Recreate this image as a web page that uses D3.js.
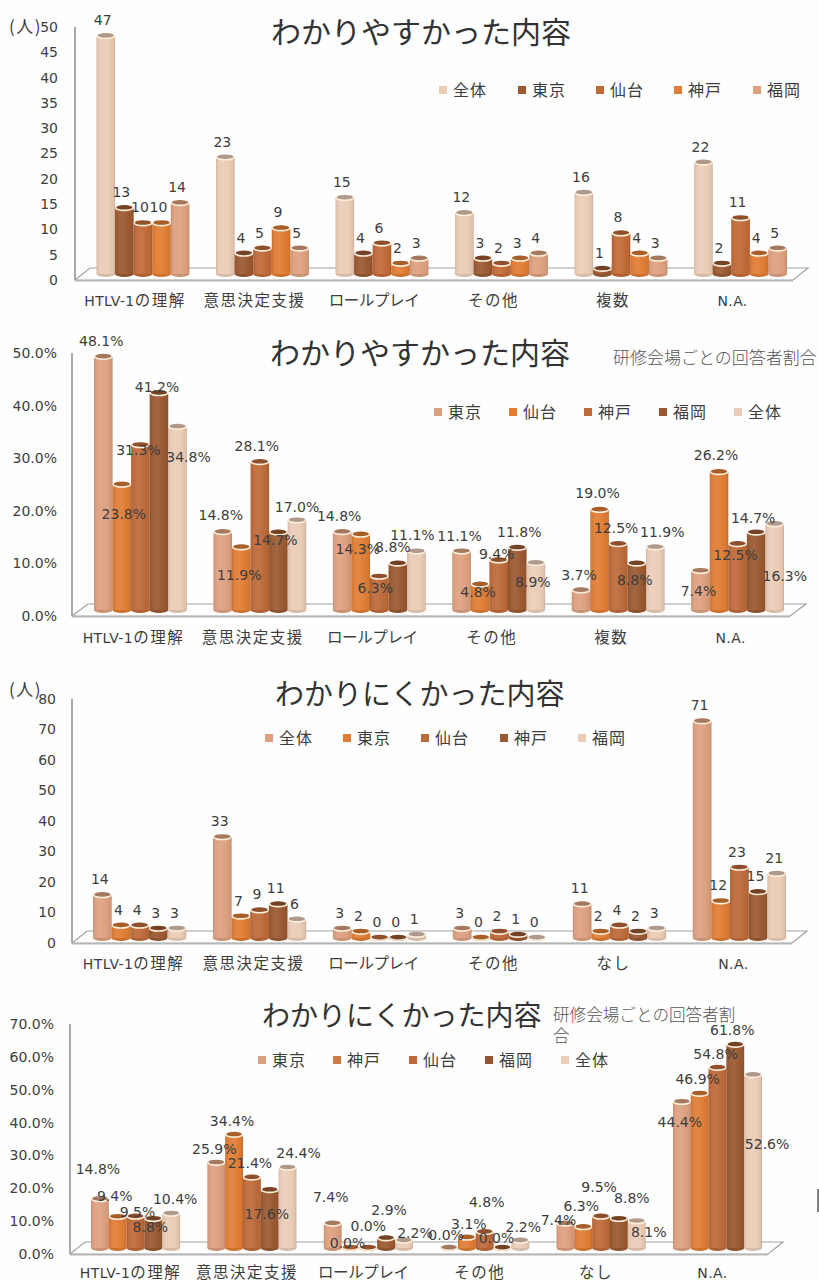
<!DOCTYPE html>
<html lang="ja">
<head>
<meta charset="utf-8">
<title>わかりやすかった内容・わかりにくかった内容</title>
<script src="https://cdn.jsdelivr.net/npm/d3@7"></script>
<style>
  html, body { margin: 0; padding: 0; background: #fff; }
  svg { display: block; }
  text { font-family: "DejaVu Sans", "Noto Sans CJK JP", sans-serif; fill: #3d3d3d; }
  .jp { font-family: "Noto Sans CJK JP", sans-serif; }
</style>
</head>
<body>
<svg id="chart" width="819" height="1281"></svg>
<script>
// Survey categories
const easyCategories = ["HTLV-1の理解", "意思決定支援", "ロールプレイ", "その他", "複数", "N.A."];
const hardCategories = ["HTLV-1の理解", "意思決定支援", "ロールプレイ", "その他", "なし", "N.A."];

// 1: easy to understand, head counts
const easyCountSeries = ["全体", "東京", "仙台", "神戸", "福岡"];
const easyCountAll     = [47, 23, 15, 12, 16, 22];
const easyCountTokyo   = [13, 4, 4, 3, 1, 2];
const easyCountSendai  = [10, 5, 6, 2, 8, 11];
const easyCountKobe    = [10, 9, 2, 3, 4, 4];
const easyCountFukuoka = [14, 5, 3, 4, 3, 5];

// 2: easy to understand, share of respondents per venue
const easyRateSeries = ["東京", "仙台", "神戸", "福岡", "全体"];
const easyRateTokyo   = [48.1, 14.8, 14.8, 11.1, 3.7, 7.4];
const easyRateSendai  = [23.8, 11.9, 14.3, 4.8, 19.0, 26.2];
const easyRateKobe    = [31.3, 28.1, 6.3, 9.4, 12.5, 12.5];
const easyRateFukuoka = [41.2, 14.7, 8.8, 11.8, 8.8, 14.7];
const easyRateAll     = [34.8, 17.0, 11.1, 8.9, 11.9, 16.3];

// 3: hard to understand, head counts
const hardCountSeries = ["全体", "東京", "仙台", "神戸", "福岡"];
const hardCountAll     = [14, 33, 3, 3, 11, 71];
const hardCountTokyo   = [4, 7, 2, 0, 2, 12];
const hardCountSendai  = [4, 9, 0, 2, 4, 23];
const hardCountKobe    = [3, 11, 0, 1, 2, 15];
const hardCountFukuoka = [3, 6, 1, 0, 3, 21];

// 4: hard to understand, share of respondents per venue
const hardRateSeries = ["東京", "神戸", "仙台", "福岡", "全体"];
const hardRateTokyo   = [14.8, 25.9, 7.4, 0.0, 7.4, 44.4];
const hardRateKobe    = [9.4, 34.4, 0.0, 3.1, 6.3, 46.9];
const hardRateSendai  = [9.5, 21.4, 0.0, 4.8, 9.5, 54.8];
const hardRateFukuoka = [8.8, 17.6, 2.9, 0.0, 8.8, 61.8];
const hardRateAll     = [10.4, 24.4, 2.2, 2.2, 8.1, 52.6];

// Bar palettes, one colour per series position
const palette1 = ["#eaccb7", "#9a5932", "#c06a38", "#df7d35", "#dca080"];
const palette2 = ["#dca080", "#df7d35", "#bd6a3a", "#9a5932", "#eaccb7"];
const rateLegendColors = ["#dca080", "#d07a4a", "#bd6a3a", "#96552f", "#eaccb7"];

// Hand-placed data labels: [dx, dy] from the top centre of each bar, series by category
const easyRateNudges = [
  [[-2,-16],[-2,-17],[-3,-16],[-2,-16],[-2,-15],[-2,20]],
  [[2,29],[-2,28],[-3,14],[-2,7],[-2,-17],[-3,-17]],
  [[-2,5],[-3,-16],[-4,11],[-2,-6],[-2,-16],[-2,11]],
  [[-2,-6],[-3,7],[-5,-17],[2,-16],[-2,16],[-3,-15]],
  [[11,30],[0,-13],[-4,-17],[-3,19],[7,-15],[10,52]]
];
const hardRateNudges = [
  [[-2,-30],[-2,-14],[-2,-27],[-3,-13],[-7,-4],[-2,20]],
  [[-3,-21],[-2,-14],[-3,-5],[2,-14],[-2,-21],[-2,-15]],
  [[2,-5],[-2,-15],[0,-22],[2,-30],[-2,-30],[-2,-14]],
  [[-3,8],[-3,24],[3,-28],[-6,-10],[13,-21],[-3,-15]],
  [[4,-15],[11,-15],[11,-8],[3,-14],[12,11],[14,69]]
];

const svg = d3.select("#chart");
svg.append("rect").attr("width", 819).attr("height", 1281).attr("fill", "#fefefe");
const defs = svg.append("defs");

// Horizontal shading that makes a flat rectangle read as a cylinder
const shade = (c, k) => d3.interpolateRgb(c, k > 0 ? "#fff" : "#3a1c0a")(Math.abs(k));
function cylinderGradient(color) {
  const id = "cyl" + color.slice(1);
  if (!defs.select("#" + id).empty()) return id;
  const g = defs.append("linearGradient").attr("id", id);
  [[0, -0.16], [0.05, -0.05], [0.2, 0.05], [0.42, 0.08], [0.72, 0], [0.93, -0.07], [1, -0.2]]
    .forEach(([o, k]) => g.append("stop").attr("offset", o).attr("stop-color", shade(color, k)));
  return id;
}

// Kana and kanji are set larger than the Latin runs in the category labels;
// katakana runs are set tight
function setCategoryLabel(sel) {
  sel.each(function (d) {
    const t = d3.select(this).text("");
    (d.match(/[\x00-\x7f]+|[^\x00-\x7f]+/g) || []).forEach(run => {
      const latin = /^[\x00-\x7f]/.test(run);
      const katakana = /^[\u30a0-\u30ff]+$/.test(run);
      t.append("tspan").text(run)
        .style("font-family", latin ? '"DejaVu Sans", sans-serif' : '"Noto Sans CJK JP", sans-serif')
        .style("font-size", latin ? "14px" : "15.5px")
        .style("letter-spacing", latin ? "0.4px" : katakana ? "-0.4px" : "1.5px");
    });
  });
}

function drawPanel(p) {
  const g = svg.append("g");
  const y = d3.scaleLinear().domain([0, p.max]).range([p.floorY, p.topY]);
  const x0 = d3.scaleBand().domain(p.categories).range(p.groupSpan).paddingInner(p.gap);
  const x1 = d3.scaleBand().domain(p.series).range([0, x0.bandwidth()]);
  const w = x1.bandwidth();
  const baseY = p.floorY - p.lift;

  // Floor and wall of the 3-D plot box
  const backY = p.floorY - p.depthY;
  const left = p.axisX, right = p.floorRight, dx = p.depthX;
  g.append("path")
    .attr("d", `M${left},${p.topY}L${left},${p.floorY}L${right},${p.floorY}L${right + dx},${backY}L${left + dx},${backY}L${left},${p.floorY}`)
    .attr("fill", "none").attr("stroke", "#a2a2a2").attr("stroke-width", 1.2);
  g.append("line").attr("x1", left).attr("x2", left).attr("y1", p.topY).attr("y2", p.floorY)
    .attr("stroke", "#a8a8a8").attr("stroke-width", 2);
  g.append("line").attr("x1", left).attr("x2", right).attr("y1", p.floorY + 0.8).attr("y2", p.floorY + 0.8)
    .attr("stroke", "#b5b5b5").attr("stroke-width", 1.4);

  // Value axis
  const yAxis = d3.axisLeft(y).tickValues(d3.range(0, p.max + 1, p.step))
    .tickSize(0).tickPadding(p.axisX - p.tickRight).tickFormat(p.tickFormat);
  const ya = g.append("g").attr("transform", `translate(${p.axisX},0)`).call(yAxis);
  ya.select(".domain").remove();
  ya.selectAll("text").style("font-size", p.tickSize + "px")
    .style("font-family", '"DejaVu Sans", sans-serif');

  // Category axis
  const xAxis = d3.axisBottom(x0).tickSize(0).tickPadding(0);
  const xa = g.append("g").attr("transform", `translate(${p.catShift},${p.catY})`).call(xAxis);
  xa.select(".domain").remove();
  xa.selectAll("text").attr("y", 0).attr("dy", "0.35em").call(setCategoryLabel);

  // Cylinders, each series overlapping the one before it
  p.series.forEach((name, si) => {
    const color = p.colors[si];
    const values = p.values[si];
    const s = g.append("g").selectAll("g").data(values).join("g");
    const cx = (d, i) => x0(p.categories[i]) + x1(name) + w / 2;
    const ry = 3;
    s.append("ellipse").attr("cx", cx).attr("cy", baseY).attr("rx", w / 2).attr("ry", ry)
      .attr("fill", d3.color(color).darker(0.25));
    s.append("rect").attr("x", (d, i) => cx(d, i) - w / 2).attr("width", w)
      .attr("y", d => y(d) - p.lift).attr("height", d => baseY - (y(d) - p.lift))
      .attr("fill", `url(#${cylinderGradient(color)})`);
    s.append("ellipse").attr("cx", cx).attr("cy", d => y(d) - p.lift).attr("rx", w / 2).attr("ry", ry)
      .attr("fill", "#fbeeda");
    s.append("ellipse").attr("cx", cx).attr("cy", d => y(d) - p.lift - 0.9).attr("rx", w / 2 - 1.2).attr("ry", ry - 0.7)
      .attr("fill", d3.color(color).darker(0.8));
  });

  // Data labels sit above all cylinders
  p.series.forEach((name, si) => {
    g.append("g").selectAll("text").data(p.values[si]).join("text")
      .attr("x", (d, i) => x0(p.categories[i]) + x1(name) + w / 2 + (p.nudges ? p.nudges[si][i][0] : p.labelDx))
      .attr("y", (d, i) => y(d) - p.lift + (p.nudges ? p.nudges[si][i][1] : p.labelDy))
      .attr("dy", "0.35em").attr("text-anchor", "middle")
      .style("font-size", p.tickSize + "px")
      .text(p.labelFormat);
  });

  // Title and optional note
  g.append("text").attr("class", "jp").attr("x", p.title.x).attr("y", p.title.y)
    .attr("dy", "0.35em").style("font-size", p.title.size + "px").style("font-weight", 400)
    .style("fill", "#333").text(p.title.text);
  (p.notes || []).forEach(n => {
    g.append("text").attr("class", "jp").attr("x", n.x).attr("y", n.y).attr("dy", "0.35em")
      .style("font-size", n.size + "px").style("font-weight", 300).style("fill", "#555").text(n.text);
  });
  if (p.unit) {
    g.append("text").attr("class", "jp").attr("x", p.unit.x).attr("y", p.unit.y).attr("dy", "0.35em")
      .style("font-size", "17px").style("letter-spacing", "1.5px").text("(人)");
  }

  // Legend
  const lg = g.append("g").selectAll("g").data(p.series).join("g")
    .attr("transform", (d, i) => `translate(${p.legendX[i]},${p.legendY})`);
  lg.append("rect").attr("y", -4).attr("width", 8).attr("height", 8)
    .attr("fill", (d, i) => p.legendColors ? p.legendColors[i] : p.colors[i]);
  lg.append("text").attr("class", "jp").attr("x", 14).attr("dy", "0.35em")
    .style("font-size", "16px").style("letter-spacing", "1px").text(d => d);
}

const plain = d => String(d);
const pct = d => d.toFixed(1) + "%";

drawPanel({
  categories: easyCategories, series: easyCountSeries,
  values: [easyCountAll, easyCountTokyo, easyCountSendai, easyCountKobe, easyCountFukuoka],
  colors: palette1, max: 50, step: 5, tickFormat: plain, labelFormat: plain,
  floorY: 280, topY: 27, lift: 6, axisX: 75, tickRight: 58, tickSize: 14,
  floorRight: 793, depthX: 15, depthY: 12, groupSpan: [96.5, 787], gap: 0.223, catY: 302, catShift: -8,
  labelDx: -3, labelDy: -16,
  title: { text: "わかりやすかった内容", x: 271, y: 32, size: 30 },
  unit: { x: 9, y: 27 },
  legendX: [439, 518, 596, 674, 753], legendY: 90
});

drawPanel({
  categories: easyCategories, series: easyRateSeries,
  values: [easyRateTokyo, easyRateSendai, easyRateKobe, easyRateFukuoka, easyRateAll],
  colors: palette2, max: 50, step: 10, tickFormat: d => d.toFixed(1) + "%", labelFormat: pct,
  floorY: 616, topY: 353, lift: 6, axisX: 72, tickRight: 57, tickSize: 14,
  floorRight: 790, depthX: 16, depthY: 12, groupSpan: [94, 784], gap: 0.223, catY: 639, catShift: -7,
  nudges: easyRateNudges,
  title: { text: "わかりやすかった内容", x: 270, y: 353, size: 30 },
  notes: [{ text: "研修会場ごとの回答者割合", x: 613, y: 358, size: 17 }],
  legendX: [434, 509, 584, 659, 734], legendY: 412
});

drawPanel({
  categories: hardCategories, series: hardCountSeries,
  values: [hardCountAll, hardCountTokyo, hardCountSendai, hardCountKobe, hardCountFukuoka],
  colors: palette2, max: 80, step: 10, tickFormat: plain, labelFormat: plain,
  floorY: 943, topY: 699, lift: 5, axisX: 72, tickRight: 56, tickSize: 14,
  floorRight: 792, depthX: 15, depthY: 12, groupSpan: [93, 786], gap: 0.223, catY: 965, catShift: -6,
  labelDx: -2.5, labelDy: -16,
  title: { text: "わかりにくかった内容", x: 275, y: 695, size: 29 },
  unit: { x: 9, y: 690 },
  legendX: [265, 343, 421, 500, 578], legendY: 738
});

drawPanel({
  categories: hardCategories, series: hardRateSeries,
  values: [hardRateTokyo, hardRateKobe, hardRateSendai, hardRateFukuoka, hardRateAll],
  colors: palette2, legendColors: rateLegendColors, max: 70, step: 10, tickFormat: d => d.toFixed(1) + "%", labelFormat: pct,
  floorY: 1254, topY: 1024, lift: 6, axisX: 70, tickRight: 54, tickSize: 14,
  floorRight: 768, depthX: 15, depthY: 12, groupSpan: [91, 762], gap: 0.235, catY: 1274, catShift: -5,
  nudges: hardRateNudges,
  title: { text: "わかりにくかった内容", x: 262, y: 1016, size: 28 },
  notes: [
    { text: "研修会場ごとの回答者割", x: 553, y: 1015, size: 16.6 },
    { text: "合", x: 553, y: 1036, size: 16.6 }
  ],
  legendX: [258, 333, 409, 485, 561], legendY: 1060
});

// Binding edge left on the right margin of the page
svg.append("line").attr("x1", 818).attr("x2", 818).attr("y1", 1189).attr("y2", 1212)
  .attr("stroke", "#555").attr("stroke-width", 1.5);
</script>
</body>
</html>
